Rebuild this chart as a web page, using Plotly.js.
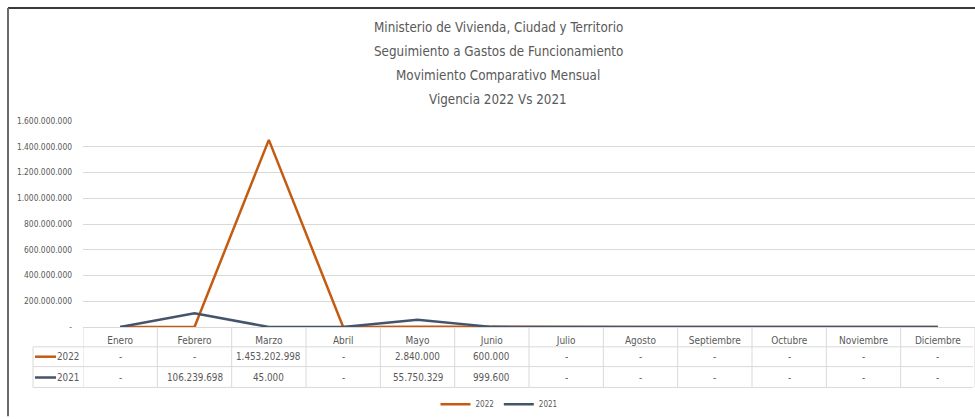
<!DOCTYPE html>
<html>
<head>
<meta charset="utf-8">
<script src="https://cdn.plot.ly/plotly-3.0.1.min.js"></script>
<style>
html,body{margin:0;padding:0;background:#fff;}
#chart{width:975px;height:419px;}
</style>
</head>
<body>
<div id="chart"></div>
<script>
// ---------- data ----------
const months = ["Enero","Febrero","Marzo","Abril","Mayo","Junio","Julio","Agosto","Septiembre","Octubre","Noviembre","Diciembre"];
const values2022 = [0, 0, 1453202998, 0, 2840000, 600000, 0, 0, 0, 0, 0, 0];
const values2021 = [0, 106239698, 45000, 0, 55750329, 999600, 0, 0, 0, 0, 0, 0];
const seriesNames = ["2022", "2021"];
const yTickValues = [0, 200000000, 400000000, 600000000, 800000000, 1000000000, 1200000000, 1400000000, 1600000000];
const titleLines = [
  "Ministerio de Vivienda, Ciudad y Territorio",
  "Seguimiento a Gastos de Funcionamiento",
  "Movimiento Comparativo Mensual",
  "Vigencia 2022 Vs 2021"
];

// ---------- styling ----------
const W = 975, H = 419;
const L = 83, R = 975, T = 121, B = 329;
const colors = ["#C55A11", "#44546A"];
const textColor = "#595959";
const gridColor = "#D9D9D9";
const FONT = '"Liberation Sans Narrow", "DejaVu Sans Condensed", "Arial Narrow", sans-serif';

function fmt(n) {
  if (n === 0) return "-";
  return String(Math.round(n)).replace(/\B(?=(\d{3})+(?!\d))/g, ".");
}
const px = x => (x - L) / (R - L);
const py = y => (B - y) / (B - T);

const traces = [
  {x: months, y: values2022, name: seriesNames[0], type: "scatter", mode: "lines",
   line: {color: colors[0], width: 2.5}},
  {x: months, y: values2021, name: seriesNames[1], type: "scatter", mode: "lines",
   line: {color: colors[1], width: 2.5}}
];

const annotations = [];
const shapes = [];

// title lines
const titleY = [27, 51, 75, 99];
titleLines.forEach((t, i) => {
  annotations.push({text: t, xref: "paper", yref: "paper", x: px(498), y: py(titleY[i]),
    xanchor: "center", yanchor: "middle", showarrow: false,
    font: {family: FONT, size: 13.3, color: textColor}});
});

// data table
const rowY = [359, 380];
const rowTop = 349, rowBottom = 390;
[values2022, values2021].forEach((vals, r) => {
  vals.forEach((v, i) => {
    annotations.push({text: fmt(v), xref: "x", yref: "paper", x: months[i], y: py(rowY[r]),
      xanchor: "center", yanchor: "middle", showarrow: false,
      font: {family: FONT, size: 9.8, color: textColor}});
  });
  annotations.push({text: seriesNames[r], xref: "paper", yref: "paper", x: px(81), y: py(rowY[r]),
    xanchor: "right", yanchor: "middle", showarrow: false,
    font: {family: FONT, size: 9.8, color: textColor}});
  shapes.push({type: "line", xref: "paper", yref: "paper", x0: px(35), x1: px(56),
    y0: py(rowY[r]), y1: py(rowY[r]), line: {color: colors[r], width: 2.5}});
});
// table grid lines
[rowTop, 369, rowBottom].forEach(y => {
  shapes.push({type: "line", xref: "paper", yref: "paper", x0: px(33), x1: px(973),
    y0: py(y), y1: py(y), line: {color: gridColor, width: 1}, layer: "below"});
});
shapes.push({type: "line", xref: "paper", yref: "paper", x0: px(33), x1: px(33),
  y0: py(rowTop), y1: py(rowBottom), line: {color: gridColor, width: 1}, layer: "below"});
for (let i = 0; i <= months.length; i++) {
  shapes.push({type: "line", xref: "x", yref: "paper", x0: i - 0.5, x1: i - 0.5,
    y0: 0, y1: py(rowBottom), line: {color: gridColor, width: 1}, layer: "below"});
}
// outer frame
shapes.push({type: "line", xref: "paper", yref: "paper", x0: px(8), x1: px(975),
  y0: py(7), y1: py(7), line: {color: "#3a3a3a", width: 2}});
shapes.push({type: "line", xref: "paper", yref: "paper", x0: px(8), x1: px(8),
  y0: py(7), y1: py(419), line: {color: "#6a6a6a", width: 2}});

const layout = {
  width: W, height: H,
  margin: {l: L, r: W - R, t: T, b: H - B, pad: 0},
  paper_bgcolor: "#fff", plot_bgcolor: "#fff",
  showlegend: true,
  legend: {orientation: "h", x: px(499), xanchor: "center", y: py(407), yanchor: "middle",
    font: {family: FONT, size: 8, color: textColor}, itemwidth: 30, tracegroupgap: 0},
  xaxis: {type: "category", categoryorder: "array", categoryarray: months,
    range: [-0.5, 11.5], showgrid: false, zeroline: false, showline: true, linecolor: gridColor, linewidth: 1,
    ticks: "", ticklabelstandoff: 4,
    tickfont: {family: FONT, size: 10, color: textColor}, fixedrange: true},
  yaxis: {range: [0, 1600000000], tickvals: yTickValues, ticktext: yTickValues.map(fmt),
    showgrid: true, gridcolor: gridColor, gridwidth: 1, zeroline: false, showline: false,
    ticks: "", ticklabelstandoff: 10,
    tickfont: {family: FONT, size: 8.4, color: textColor}, fixedrange: true},
  annotations: annotations,
  shapes: shapes
};

Plotly.newPlot("chart", traces, layout, {staticPlot: true, displayModeBar: false});
</script>
</body>
</html>
